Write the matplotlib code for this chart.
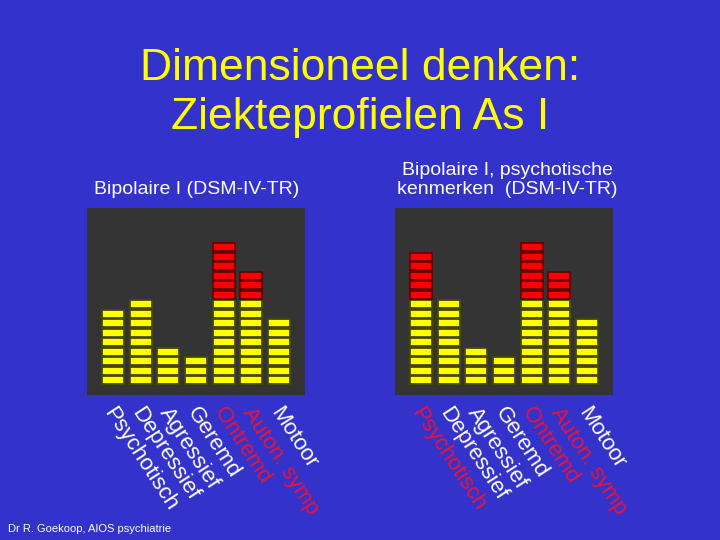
import matplotlib
matplotlib.use("Agg")
import matplotlib.pyplot as plt

plt.rcParams["font.family"] = ["Liberation Sans", "DejaVu Sans"]

# data
categories = ["Psychotisch", "Depressief", "Agressief", "Geremd", "Ontremd", "Auton. symp", "Motoor"]
left_yellow = [8, 9, 4, 3, 9, 9, 7]
left_red = [0, 0, 0, 0, 6, 3, 0]
right_yellow = [9, 9, 4, 3, 9, 9, 7]
right_red = [5, 0, 0, 0, 6, 3, 0]
left_label_red = [False, False, False, False, True, True, False]
right_label_red = [True, False, False, False, True, True, False]

BG = "#3333CC"
PANEL = "#343434"
YEL = "#FFFF00"
YEL_EDGE = "#4A4A00"
RED = "#FF0000"
RED_EDGE = "#6A0000"
LBL_RED = "#E8143C"

fig = plt.figure(figsize=(7.2, 5.4), dpi=100, facecolor=BG)

fig.text(0.5, 1 - 68/540, "Dimensioneel denken:", color=YEL, fontsize=32,
         ha="center", va="center")
fig.text(0.5, 1 - 118/540, "Ziekteprofielen As I", color=YEL, fontsize=32,
         ha="center", va="center")


def draw_panel(left_px, yellow, red, label_red):
    ax = fig.add_axes([left_px/720, 1 - 395/540, 218/720, 187/540])
    ax.set_facecolor(PANEL)
    x = range(len(categories))
    for k in range(max(yellow)):
        xs = [i for i in x if yellow[i] > k]
        ax.bar(xs, 0.86, bottom=k + 0.07, width=0.8, color=YEL,
               edgecolor=YEL_EDGE, linewidth=1.3)
    for k in range(max(red)):
        xs = [i for i in x if red[i] > k]
        bots = [yellow[i] + k + 0.07 for i in xs]
        ax.bar(xs, 0.86, bottom=bots, width=0.8, color=RED,
               edgecolor=RED_EDGE, linewidth=1.3)
    ax.set_xlim(-0.94, 6.94)
    ax.set_ylim(-1.05, 18.65)
    ax.set_xticks([])
    ax.set_yticks([])
    for s in ax.spines.values():
        s.set_visible(False)
    for i, name in enumerate(categories):
        ax.annotate(name, xy=(i + 0.15, -0.045), xycoords=("data", "axes fraction"),
                    rotation=-57, rotation_mode="anchor", ha="left", va="top",
                    fontsize=16, color=LBL_RED if label_red[i] else "white",
                    annotation_clip=False)
    return ax


draw_panel(87, left_yellow, left_red, left_label_red)
draw_panel(395, right_yellow, right_red, right_label_red)

fig.text(197/720, 1 - 190/540, "Bipolaire I (DSM-IV-TR)", color="white",
         fontsize=14, ha="center", va="center")
fig.text(507/720, 1 - 180/540, "Bipolaire I, psychotische\nkenmerken  (DSM-IV-TR)",
         color="white", fontsize=14, ha="center", va="center", linespacing=1.2)

fig.text(8/720, 1 - 529/540, "Dr R. Goekoop, AIOS psychiatrie", color="white",
         fontsize=8, ha="left", va="center")

fig.savefig("out.png", dpi=100, facecolor=BG)
